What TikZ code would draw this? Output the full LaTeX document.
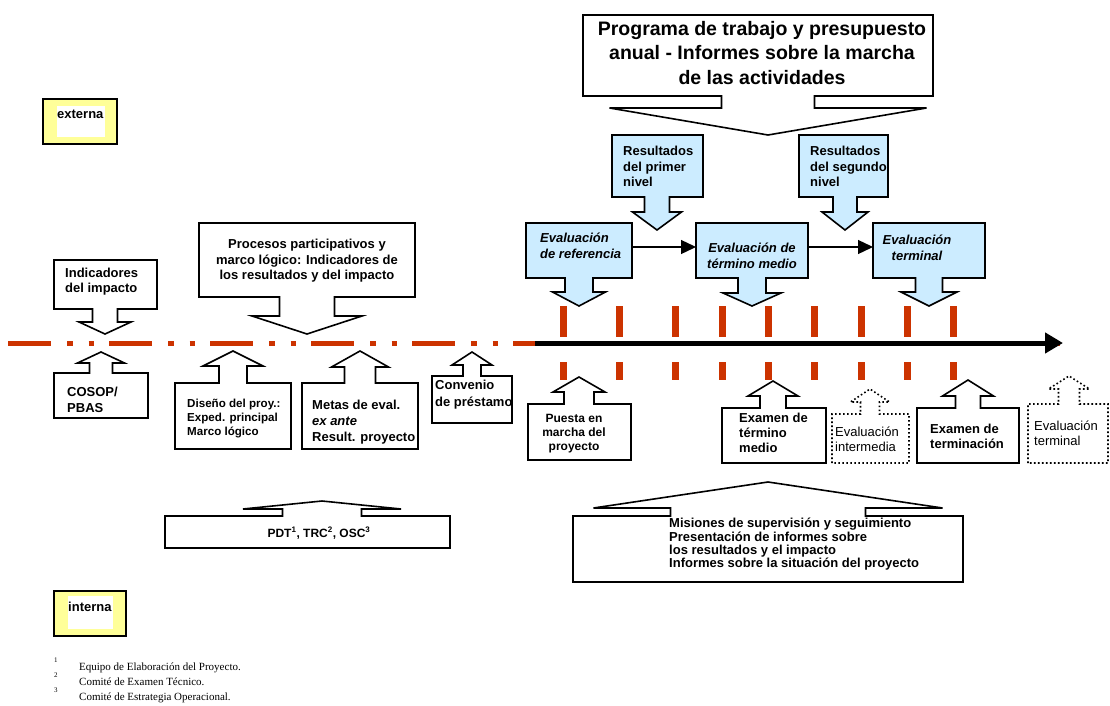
\documentclass[tikz,border=0pt]{standalone}
\usepackage{fontspec}
\setmainfont{Liberation Sans}
\newfontfamily\notefont{Liberation Serif}
\usetikzlibrary{arrows.meta}
\definecolor{tlred}{HTML}{CC3300}
\definecolor{evblue}{HTML}{CCECFF}
\definecolor{keyyellow}{HTML}{FFFF99}
\def\dncall(#1,#2)(#3,#4)(#5:#6:#7:#8:#9){(#1,#2) -- (#3,#2) -- (#3,#4) -- ({#5+#6},#4) -- ({#5+#6},#8) -- ({#5+#7},#8) -- (#5,#9) -- ({#5-#7},#8) -- ({#5-#6},#8) -- ({#5-#6},#4) -- (#1,#4) -- cycle}
\def\upcall(#1,#2)(#3,#4)(#5:#6:#7:#8:#9){(#1,#4) -- (#1,#2) -- ({#5-#6},#2) -- ({#5-#6},#8) -- ({#5-#7},#8) -- (#5,#9) -- ({#5+#7},#8) -- ({#5+#6},#8) -- ({#5+#6},#2) -- (#3,#2) -- (#3,#4) -- cycle}
\tikzset{
	callw/.style={draw, fill=white, line width=1.6pt},
	callb/.style={callw, fill=evblue},
	calld/.style={draw, line width=1.6pt, dash pattern=on 1.6pt off 2.4pt},
	txt/.style={inner sep=0pt, anchor=north west, align=left, font=\bfseries\fontsize{13}{15}\selectfont},
	txtc/.style={txt, anchor=north, align=center},
	evtxt/.style={font=\bfseries\itshape\fontsize{13}{15.5}\selectfont},
	plain/.style={font=\fontsize{13}{14.5}\selectfont},
	flow/.style={line width=1.3pt, -{Triangle[length=15pt, width=14pt]}},
	keybox/.style={draw, fill=keyyellow, line width=1.6pt},
	note/.style={inner sep=0pt, anchor=base west, font=\notefont\fontsize{11}{13}\selectfont},
}

\begin{document}
\begin{tikzpicture}[x=1pt, y=-1pt]
				%%%%% START %%%%%
				\useasboundingbox (0,0) rectangle (1110,706);
				
				\draw[tlred, line width=5pt, dash pattern=on 43pt off 16pt on 5.5pt off 16pt on 5.5pt off 15pt] (8,343) -- (1060,343);
				\foreach \tx in {563,619,675,722,768,814,861,907,953} {
					\fill[tlred] (\tx-3.5,306) rectangle (\tx+3.5,337);
					\fill[tlred] (\tx-3.5,362) rectangle (\tx+3.5,380);
				}
				\coordinate (tl-start) at (535,343);
				\coordinate (tl-end) at (1063,343);
				\draw[line width=5pt, -{Triangle[length=18pt, width=20pt]}] (tl-start) -- (tl-end);
				
				\draw[keybox] (43,99) rectangle (117,144);
				\fill[white] (57,106) rectangle (105,137);
				\node[txt, anchor=west] (ext) at (57,114) {externa};
				
				\draw[keybox] (54,591) rectangle (126,636);
				\fill[white] (68,596) rectangle (113,629);
				\node[txt, anchor=west] (int) at (68,607) {interna};
				
				\draw[callw] \dncall(54,260)(157,309)(105:12.5:26:322:334);
				\draw[callw] \dncall(199,223)(415,297)(307:27.5:55:316:334);
				\draw[callw] \dncall(583,15)(933,96)(768:46.5:158.5:108:135);
				\draw[callb] \dncall(612,135)(703,197)(657:12.5:24.5:212:230);
				\draw[callb] \dncall(799,135)(888,197)(845:12:23:212:230);
				\draw[callb] \dncall(526,223)(632,278)(579:14:26.5:292:306);
				\draw[callb] \dncall(696,223)(808,278)(752:14:29:293:306);
				\draw[callb] \dncall(873,223)(985,278)(929:13.5:28:292:306);
				
				\draw[callw] \upcall(54,373)(148,418)(101:11.5:23.5:363:352);
				\draw[callw] \upcall(175,383)(291,449)(233:14:30:366:351);
				\draw[callw] \upcall(302,383)(418,449)(360:15.5:28.5:367:351);
				\draw[callw] \upcall(432,376)(512,423)(472:9:20:365:352);
				\draw[callw] \upcall(528,404)(631,460)(579:15:26:392:377);
				\draw[callw] \upcall(722,408)(826,463)(773:13:25:396:381);
				\draw[calld] \upcall(832,414)(909,463)(870:9.5:19.5:402:389);
				\draw[callw] \upcall(917,408)(1019,463)(968:12.5:25.5:396:380);
				\draw[calld] \upcall(1028,404)(1108,463)(1069:10.5:20.5:389:376);
				\draw[callw] \upcall(165,516)(450,548)(322:39.5:79:509:501);
				\draw[callw] \upcall(573,516)(963,582)(768:97.5:174.5:508:482);
				
				\coordinate (ref-out) at (632,247);
				\coordinate (tm-in) at (696,247);
				\coordinate (tm-out) at (808,247);
				\coordinate (fin-in) at (873,247);
				\draw[flow] (ref-out) -- (tm-in);
				\draw[flow] (tm-out) -- (fin-in);
				
				\node[txt] (indic) at (65,268) {Indicadores\\del impacto};
				\node[txtc, font=\bfseries\fontsize{13}{15.5}\selectfont] (proc) at (307,239) {Procesos participativos y\\marco lógico: Indicadores de\\los resultados y del impacto};
				\node[txtc, font=\bfseries\fontsize{19.5}{24.5}\selectfont] (prog) at (762,21) {Programa de trabajo y presupuesto\\anual - Informes sobre la marcha\\de las actividades};
				\node[txt, font=\bfseries\fontsize{13}{15.5}\selectfont] (res1) at (623,146) {Resultados\\del primer\\nivel};
				\node[txt, font=\bfseries\fontsize{13}{15.5}\selectfont] (res2) at (810,146) {Resultados\\del segundo\\nivel};
				\node[txt, evtxt] (evref) at (540,233) {Evaluación\\de referencia};
				\node[txtc, evtxt] (evtm) at (752,243) {Evaluación de\\término medio};
				\node[txtc, evtxt] (evfin) at (917,235) {Evaluación\\terminal};
				
				\node[txt, font=\bfseries\fontsize{13}{16}\selectfont] (cosop) at (67,387) {COSOP/\\PBAS};
				\node[txt, font=\bfseries\fontsize{11.6}{14}\selectfont] (diseno) at (187,399) {Diseño del proy.:\\Exped. principal\\Marco lógico};
				\node[txt, font=\bfseries\fontsize{13}{16}\selectfont] (metas) at (312,400) {Metas de eval.\\\textit{ex ante}\\Result. proyecto};
				\node[txt, font=\bfseries\fontsize{13}{16.5}\selectfont] (conv) at (435,380) {Convenio\\de préstamo};
				\node[txtc, font=\bfseries\fontsize{12}{14}\selectfont] (puesta) at (574,414) {Puesta en\\marcha del\\proyecto};
				\node[txt] (extm) at (739,413) {Examen de\\término\\medio};
				\node[txt, plain] (evint) at (835,427) {Evaluación\\intermedia};
				\node[txt] (exterm) at (930,424) {Examen de\\terminación};
				\node[txt, plain] (evlast) at (1034,421) {Evaluación\\terminal};
				\node[txt, anchor=base, font=\bfseries\fontsize{12}{14}\selectfont] (pdt) at (319,537) {PDT\textsuperscript{1}, TRC\textsuperscript{2}, OSC\textsuperscript{3}};
				\node[txt, font=\bfseries\fontsize{13}{13.3}\selectfont] (mis) at (669,518) {Misiones de supervisión y seguimiento\\Presentación de informes sobre\\los resultados y el impacto\\Informes sobre la situación del proyecto};
				
				\foreach \k/\note in {1/Equipo de Elaboración del Proyecto., 2/Comité de Examen Técnico., 3/Comité de Estrategia Operacional.} {
					\node[note, font=\notefont\fontsize{7}{8}\selectfont] (fnn\k) at (54,{662.5+15*(\k-1)}) {\k};
					\node[note] (fn\k) at (79,{670+15*(\k-1)}) {\note};
				}
				%%%%% END %%%%%
\end{tikzpicture}
\end{document}
